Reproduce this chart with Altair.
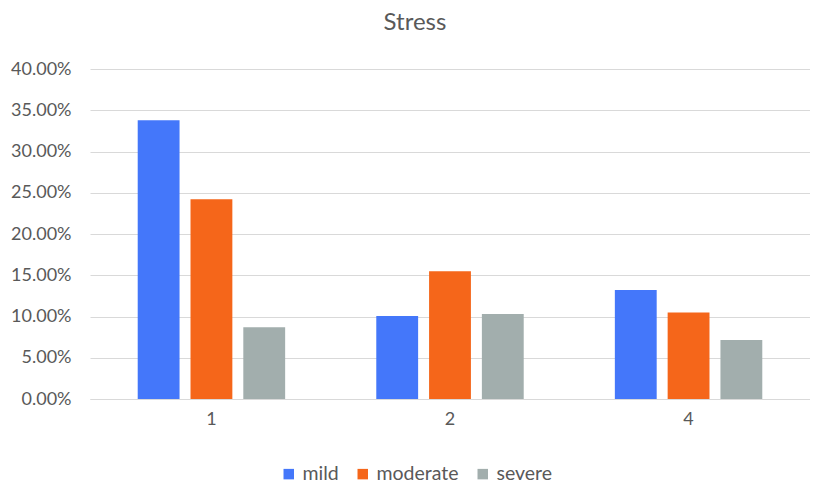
import altair as alt
import pandas as pd

groups = ["1", "2", "4"]
severity = ["mild", "moderate", "severe"]
mild = [0.338, 0.1006, 0.132]
moderate = [0.242, 0.155, 0.105]
severe = [0.087, 0.103, 0.0715]
colors = ["#4477FA", "#F5661A", "#A2AEAD"]
y_ticks = [0, 0.05, 0.10, 0.15, 0.20, 0.25, 0.30, 0.35, 0.40]

rows = []
for i, g in enumerate(groups):
    for s, vals in zip(severity, [mild, moderate, severe]):
        rows.append({"group": g, "severity": s, "value": vals[i]})
df = pd.DataFrame(rows)

FONT = "Lato"
GRAY = "#595959"

chart = alt.Chart(df).mark_bar().encode(
    x=alt.X("group:N", sort=groups,
            scale=alt.Scale(paddingInner=0.382, paddingOuter=0.2),
            axis=alt.Axis(title=None, labelAngle=0, labelFontSize=18, labelColor=GRAY,
                          labelFont=FONT, ticks=False, domainColor="#D9D9D9",
                          labelPadding=11)),
    xOffset=alt.XOffset("severity:N", sort=severity,
                        scale=alt.Scale(paddingInner=0.2075, paddingOuter=0)),
    y=alt.Y("value:Q", scale=alt.Scale(domain=[0, 0.4], nice=False),
            axis=alt.Axis(title=None, format=".2%", values=y_ticks, labelFontSize=18,
                          labelColor=GRAY, labelFont=FONT, ticks=False, domain=False,
                          gridColor="#D9D9D9", labelPadding=19)),
    color=alt.Color("severity:N", sort=severity,
                    scale=alt.Scale(domain=severity, range=colors),
                    legend=alt.Legend(title=None, orient="none", direction="horizontal",
                                      legendX=189, legendY=395, symbolType="square",
                                      symbolSize=110, symbolStrokeWidth=0,
                                      labelFontSize=19.5, labelColor=GRAY, labelFont=FONT,
                                      columnPadding=14, labelOffset=4)),
).properties(
    width=720,
    height=330,
    title=alt.TitleParams("Stress", fontSize=24, font=FONT, color=GRAY,
                          fontWeight="normal", dx=-35, offset=25),
    autosize=alt.AutoSizeParams(type="none"),
    padding={"left": 82, "top": 61, "right": 0, "bottom": 84},
).configure_view(stroke=None)

chart.save("out.html", embed_options={"renderer": "svg", "actions": False})
